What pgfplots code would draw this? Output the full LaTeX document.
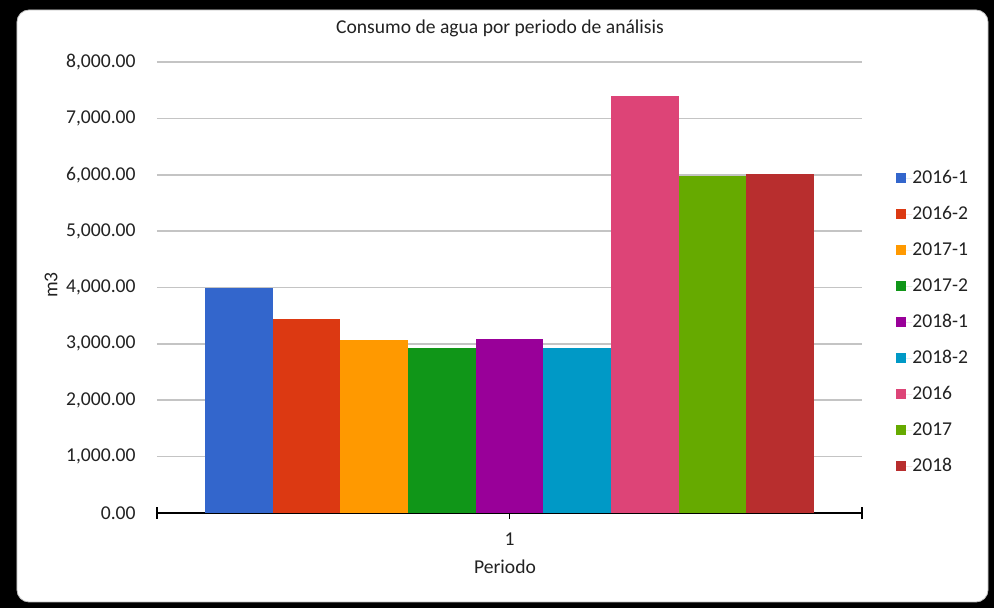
\documentclass[border=0pt]{standalone}
\usepackage{pgfplots}
\pgfplotsset{compat=1.18}
\usepackage{fontspec}
\setmainfont{Carlito}
\definecolor{c1}{HTML}{3366CC}
\definecolor{c2}{HTML}{DC3912}
\definecolor{c3}{HTML}{FF9900}
\definecolor{c4}{HTML}{109618}
\definecolor{c5}{HTML}{990099}
\definecolor{c6}{HTML}{0099C6}
\definecolor{c7}{HTML}{DD4477}
\definecolor{c8}{HTML}{66AA00}
\definecolor{c9}{HTML}{B82E2E}
\definecolor{txt}{HTML}{222222}
\definecolor{grd}{HTML}{C4C4C4}
\newcommand\fs{\fontsize{9.8pt}{11.8pt}\selectfont}
\begin{document}
\fs
\begin{tikzpicture}
\path[use as bounding box] (-78.5pt,-47.5pt) rectangle (418.5pt,256.5pt);
\fill[black] (-78.5pt,-47.5pt) rectangle (418.5pt,256.5pt);
\fill[white, draw=gray!50, rounded corners=6pt] (-70pt,-44.5pt) rectangle (415.5pt,251.5pt);
\begin{axis}[
  at={(0pt,0pt)}, anchor=south west,
  scale only axis, width=352.5pt, height=225.5pt,
  xmin=0.5, xmax=1.5, ymin=0, ymax=8000,
  ybar=0pt, bar width=33.83pt,
  axis x line*=bottom, axis y line*=left,
  y axis line style={draw=none},
  x axis line style={black, line width=0.75pt},
  xtick={0.5,1,1.5}, xticklabels={,1,},
  x tick style={black, line width=0.6pt},
  major tick length=6pt, tick align=center,
  ytick={0,1000,...,8000},
  y tick style={draw=none},
  ymajorgrids, major grid style={grd, line width=0.8pt},
  /pgf/number format/assume math mode=true,
  y tick label style={/pgf/number format/fixed, /pgf/number format/fixed zerofill, /pgf/number format/precision=2, /pgf/number format/1000 sep={,}},
  scaled y ticks=false,
  tick label style={font=\fs, text=txt},
  yticklabel style={inner sep=0pt, xshift=-7.5pt},
  xticklabel style={inner sep=0pt, yshift=-6.5pt},
  title={Consumo de agua por periodo de análisis},
  title style={font=\fs, text=txt, at={(0.4865,1.0488)}, anchor=center},
  ylabel={m3},
  ylabel style={font=\fs, text=txt, at={(-0.1504,0.5055)}, anchor=center},
  xlabel={Periodo},
  xlabel style={font=\fs, text=txt, at={(0.4936,-0.1197)}, anchor=center},
  legend style={font=\fs, text=txt, at={(1.0482,0.7827)}, anchor=north west, draw=none, fill=none, inner sep=0pt, row sep=0pt,
    nodes={inner sep=0pt, minimum height=18pt}, column sep=0pt},
  legend cell align=left,
  legend image code/.code={\path[#1, draw=none] (0pt,-2.5pt) rectangle (5pt,2.5pt); \path (0pt,0pt) -- (8pt,0pt);},
]
\addplot[fill=c1, draw=none] coordinates {(1,3990)};
\addplot[fill=c2, draw=none] coordinates {(1,3435)};
\addplot[fill=c3, draw=none] coordinates {(1,3060)};
\addplot[fill=c4, draw=none] coordinates {(1,2930)};
\addplot[fill=c5, draw=none] coordinates {(1,3095)};
\addplot[fill=c6, draw=none] coordinates {(1,2930)};
\addplot[fill=c7, draw=none] coordinates {(1,7400)};
\addplot[fill=c8, draw=none] coordinates {(1,5985)};
\addplot[fill=c9, draw=none] coordinates {(1,6005)};
\legend{2016-1,2016-2,2017-1,2017-2,2018-1,2018-2,2016,2017,2018}
\end{axis}
\end{tikzpicture}
\end{document}
